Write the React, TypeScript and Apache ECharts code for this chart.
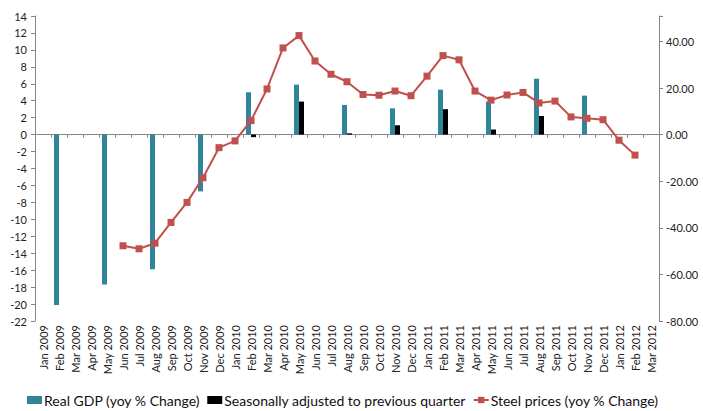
import React, { useEffect, useRef } from "react";
import * as echarts from "echarts";

const months = [
  "Jan 2009", "Feb 2009", "Mar 2009", "Apr 2009", "May 2009", "Jun 2009", "Jul 2009", "Aug 2009", "Sep 2009", "Oct 2009", "Nov 2009", "Dec 2009",
  "Jan 2010", "Feb 2010", "Mar 2010", "Apr 2010", "May 2010", "Jun 2010", "Jul 2010", "Aug 2010", "Sep 2010", "Oct 2010", "Nov 2010", "Dec 2010",
  "Jan 2011", "Feb 2011", "Mar 2011", "Apr 2011", "May 2011", "Jun 2011", "Jul 2011", "Aug 2011", "Sep 2011", "Oct 2011", "Nov 2011", "Dec 2011",
  "Jan 2012", "Feb 2012", "Mar 2012",
];

const N = null;
const realGdp = [
  N, -20.1, N, N, -17.7, N, N, -15.9, N, N, -6.7, N,
  N, 5.0, N, N, 5.9, N, N, 3.5, N, N, 3.1, N,
  N, 5.3, N, N, 3.9, N, N, 6.6, N, N, 4.6, N,
  N, N, N,
];

const seasonallyAdjusted = [
  N, N, N, N, N, N, N, N, N, N, N, N,
  N, -0.3, N, N, 3.9, N, N, 0.15, N, N, 1.1, N,
  N, 3.0, N, N, 0.6, N, N, 2.2, N, N, N, N,
  N, N, N,
];

const steelPrices = [
  N, N, N, N, N, -47.7, -49.0, -46.6, -37.7, -29.1, -18.5, -5.6,
  -2.7, 6.0, 19.6, 37.2, 42.5, 31.6, 25.9, 22.7, 17.2, 16.9, 18.7, 16.7,
  25.1, 33.9, 32.1, 18.7, 14.8, 17.0, 18.1, 13.6, 14.4, 7.6, 7.0, 6.4,
  -2.4, -8.8, N,
];

const FONT = "Lato, 'Open Sans', sans-serif";

export default function App() {
  const ref = useRef<HTMLDivElement>(null);
  useEffect(() => {
    if (!ref.current) return;
    const chart = echarts.init(ref.current, undefined, { renderer: "svg" });
    const axisColor = "#868686";
    chart.setOption({
      animation: false,
      textStyle: { fontFamily: FONT },
      grid: { left: 35, right: 44, top: 16, bottom: 90 },
      legend: {
        bottom: -1,
        left: 22,
        itemWidth: 15,
        itemHeight: 8,
        itemGap: 7,
        textStyle: { fontSize: 14, color: "#111", fontFamily: FONT, padding: [0, 0, 0, -3] },
        data: [
          { name: "Real GDP (yoy % Change)", icon: "rect" },
          { name: "Seasonally adjusted to previous quarter", icon: "rect" },
          { name: "Steel prices (yoy % Change)" },
        ],
      },
      xAxis: [
        {
          type: "category",
          data: months,
          position: "bottom",
          axisLine: { show: false, onZero: false },
          axisTick: { show: false },
          axisLabel: { rotate: 90, interval: 0, fontSize: 11, color: "#222", margin: 4, fontFamily: FONT },
        },
        {
          type: "category",
          data: months,
          position: "bottom",
          axisLine: { show: true, onZero: true, onZeroAxisIndex: 0, lineStyle: { color: axisColor, width: 1 } },
          axisTick: { show: true, interval: 0, length: 3, lineStyle: { color: axisColor } },
          axisLabel: { show: false },
        },
      ],
      yAxis: [
        {
          type: "value",
          min: -22,
          max: 14,
          interval: 2,
          axisLine: { show: true, lineStyle: { color: axisColor } },
          axisTick: { show: true, length: 4, lineStyle: { color: axisColor } },
          splitLine: { show: false },
          axisLabel: { fontSize: 11, color: "#222", margin: 8, fontFamily: FONT },
        },
        {
          type: "value",
          min: -80,
          max: (80 * 14) / 22,
          interval: 20,
          position: "right",
          axisLine: { show: true, lineStyle: { color: axisColor } },
          axisTick: { show: true, length: 4, lineStyle: { color: axisColor } },
          splitLine: { show: false },
          axisLabel: {
            fontSize: 11,
            color: "#222",
            margin: 7,
            fontFamily: FONT,
            formatter: (v: number) => (Math.abs(v % 20) < 1e-6 ? v.toFixed(2) : ""),
          },
        },
      ],
      series: [
        {
          name: "Real GDP (yoy % Change)",
          type: "bar",
          data: realGdp,
          barWidth: 5,
          barGap: "0%",
          itemStyle: { color: "#31849B" },
        },
        {
          name: "Seasonally adjusted to previous quarter",
          type: "bar",
          data: seasonallyAdjusted,
          barWidth: 5,
          barGap: "0%",
          itemStyle: { color: "#000000" },
        },
        {
          name: "Steel prices (yoy % Change)",
          type: "line",
          yAxisIndex: 1,
          data: steelPrices,
          symbol: "rect",
          symbolSize: 7,
          lineStyle: { color: "#C0504D", width: 2 },
          itemStyle: { color: "#C0504D" },
        },
      ],
    });
    return () => chart.dispose();
  }, []);
  return <div ref={ref} style={{ width: 703, height: 411, position: "absolute", left: 0, top: 0 }} />;
}
